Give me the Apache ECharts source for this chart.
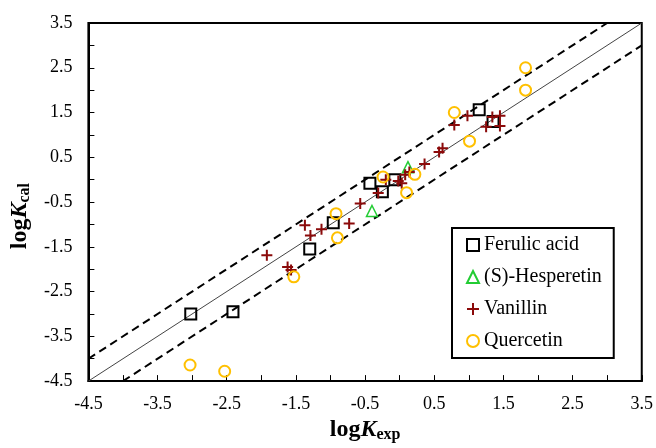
<!DOCTYPE html>
<html>
<head>
<meta charset="utf-8">
<script src="https://cdn.jsdelivr.net/npm/echarts@6/dist/echarts.min.js"></script>
<style>html,body{margin:0;padding:0;background:#fff}#c{width:656px;height:448px}</style>
</head>
<body>
<div id="c"></div>
<script>
// Data (logK_exp, logK_cal)
const ferulicAcid = [[-3.02,-3.0],[-2.41,-2.95],[-1.3,-1.55],[-0.96,-0.96],[-0.43,-0.08],[-0.25,-0.27],[-0.07,0.0],[1.15,1.56],[1.35,1.3]];
const hesperetin = [[-0.4,-0.7],[0.12,0.28]];
const vanillin = [[-1.92,-1.69],[-1.62,-1.95],[-1.57,-2.02],[-1.37,-1.02],[-1.29,-1.25],[-1.13,-1.11],[-0.73,-0.98],[-0.57,-0.53],[-0.31,-0.3],[-0.2,0.0],[-0.02,-0.03],[0.03,-0.08],[0.08,0.11],[0.14,0.17],[0.36,0.35],[0.57,0.62],[0.62,0.7],[0.79,1.22],[0.98,1.43],[1.25,1.18],[1.34,1.4],[1.45,1.43],[1.45,1.2]];
const quercetin = [[-3.03,-4.14],[-2.53,-4.28],[-1.53,-2.17],[-0.92,-0.76],[-0.9,-1.3],[-0.24,0.06],[0.22,0.12],[0.1,-0.29],[0.79,1.5],[1.01,0.86],[1.82,2.5],[1.82,2.0]];
const identityLine = [[-4.5,-4.5],[3.5,3.5]];
const upperBand = [[-4.5,-4.0],[3.0,3.5]];
const lowerBand = [[-4.0,-4.5],[3.5,3.0]];
const seriesNames = ['Ferulic acid','(S)-Hesperetin','Vanillin','Quercetin'];
const axisMin = -4.5, axisMax = 3.5, axisStep = 1;

const FONT = '"Liberation Serif","Times New Roman",serif';
const plusPath = 'path://M5,0L5,10M0,5L10,5';

const chart = echarts.init(document.getElementById('c'));
function scatter(name, data, symbol, color, size, bw) {
  return {
    name, type: 'scatter', data, symbol, symbolSize: size,
    itemStyle: { color: 'rgba(0,0,0,0)', borderColor: color, borderWidth: bw, opacity: 1 },
    z: 5
  };
}
function line(data, opts) {
  return {
    type: 'line', data, symbol: 'none', silent: true, z: 3,
    lineStyle: opts
  };
}
function axisCommon(margin) {
  return {
    type: 'value', min: axisMin, max: axisMax, interval: axisStep,
    axisLine: { onZero: false, lineStyle: { color: '#000', width: 2 } },
    axisTick: { inside: true, length: 6, lineStyle: { color: '#000', width: 1 } },
    minorTick: { show: true, splitNumber: 2, length: 6, lineStyle: { color: '#000', width: 1 } },
    splitLine: { show: false },
    axisLabel: { color: '#000', fontFamily: FONT, fontSize: 18, margin, formatter: v => v.toFixed(1) }
  };
}
const richName = {
  a: { fontFamily: FONT, fontSize: 24, fontWeight: 'bold', color: '#000' },
  b: { fontFamily: FONT, fontSize: 24, fontWeight: 'bold', fontStyle: 'italic', color: '#000' },
  c: { fontFamily: FONT, fontSize: 16, fontWeight: 'bold', color: '#000', padding: [10,0,0,0] }
};
chart.setOption({
  animation: false,
  backgroundColor: '#fff',
  grid: { left: 85, right: 14, top: 23, bottom: 66, show: true, borderColor: '#000', borderWidth: 2, backgroundColor: 'transparent' },
  xAxis: Object.assign(axisCommon(14), {
    name: '{a|log}{b|K}{c|exp}', nameLocation: 'middle', nameGap: 34,
    nameTextStyle: { rich: richName }
  }),
  yAxis: Object.assign(axisCommon(16), {
    name: '{a|log}{b|K}{c|cal}', nameLocation: 'middle', nameGap: 52,
    nameTextStyle: { padding: [0, 28, 0, 0], rich: richName }
  }),
  legend: {
    data: seriesNames, orient: 'vertical', left: 452, top: 228,
    padding: [7, 12, 7, 14], itemGap: 12, itemWidth: 12, itemHeight: 12,
    borderColor: '#000', borderWidth: 2, backgroundColor: '#fff',
    textStyle: { fontFamily: FONT, fontSize: 20, color: '#000', lineHeight: 20 },
    itemStyle: { color: 'rgba(0,0,0,0)' }
  },
  series: [
    line(identityLine, { color: '#444', width: 1, type: 'solid' }),
    line(upperBand, { color: '#000', width: 2, type: [8, 5] }),
    line(lowerBand, { color: '#000', width: 2, type: [8, 5] }),
    scatter(seriesNames[0], ferulicAcid, 'rect', '#000', 11, 2),
    scatter(seriesNames[1], hesperetin, 'triangle', '#22cc33', 11, 1.5),
    scatter(seriesNames[2], vanillin, plusPath, '#8b0a0a', 11, 2),
    scatter(seriesNames[3], quercetin, 'circle', '#ffc000', 11, 2)
  ]
});
</script>
</body>
</html>
